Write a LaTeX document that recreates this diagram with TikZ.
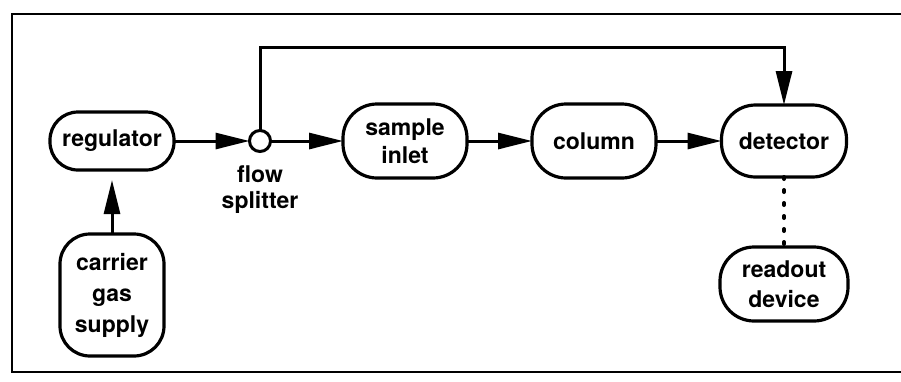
\documentclass[tikz,border=0pt]{standalone}
\usepackage{fontspec}
\setmainfont{TeX Gyre Heros}
\usetikzlibrary{
  arrows.meta,
  calc,
  positioning,
}
\tikzset{
  x = 0.5pt,
  y = -0.5pt,
  unit/.style={
    draw, line width=1.6pt, rounded corners=17pt,
    minimum width=62pt, minimum height=37pt,
    inner sep=0pt, outer sep=0pt, align=center,
    font=\bfseries\fontsize{11.5}{14}\selectfont,
  },
  junction/.style={
    draw, circle, line width=1.5pt, minimum size=10.5pt,
    inner sep=0pt, outer sep=0pt,
  },
  lbl/.style={align=center, inner sep=1pt, font=\bfseries\fontsize{11.5}{13}\selectfont},
  >={Triangle[length=17pt, width=8pt]},
  flow/.style={->, line width=1.5pt},
  signal/.style={line width=2pt, line cap=round, dash pattern=on 1pt off 5.5pt},
}

\begin{document}
\begin{tikzpicture}
  \useasboundingbox (0,0) rectangle (901,381);
  \clip (0,0) rectangle (901,381);
  \draw[line width=1.3pt] (12,14) rectangle (930,372);
  %%
  \node[unit, minimum height=29pt, rounded corners=14pt](Reg) at (112,141){regulator};
  \node[junction](Split) at (260,141){};
  \node[lbl, below=6pt of Split](SplitLbl){flow\\splitter};
  \node[unit](Inlet) at (405,141){sample\\inlet};
  \node[unit](Col) at (594,141){column};
  \node[unit, minimum width=62.5pt, minimum height=36pt](Det) at (784,141){detector};
  %%
  \node[unit, minimum width=52pt, minimum height=61pt, rounded corners=15pt,
    font=\bfseries\fontsize{11.5}{15.5}\selectfont, below=32pt of Reg](Gas){carrier\\gas\\supply};
  \node[unit, minimum width=64pt, font=\bfseries\fontsize{11.5}{15}\selectfont,
    below=35pt of Det](Out){readout\\device};
  %%
  \coordinate (Top) at (0,47);
  %%
  \draw[flow, shorten >=5pt](Gas.north) -- (Reg.south);
  \draw[flow](Reg.east) -- (Split.west);
  \draw[flow](Split.east) -- (Inlet.west);
  \draw[flow](Inlet.east) -- (Col.west);
  \draw[flow](Col.east) -- (Det.west);
  \draw[flow](Split.north) -- (Split.north |- Top) -| (Det.north);
  %%
  \draw[signal](Det.south) -- (Out.north);
\end{tikzpicture}
\end{document}
